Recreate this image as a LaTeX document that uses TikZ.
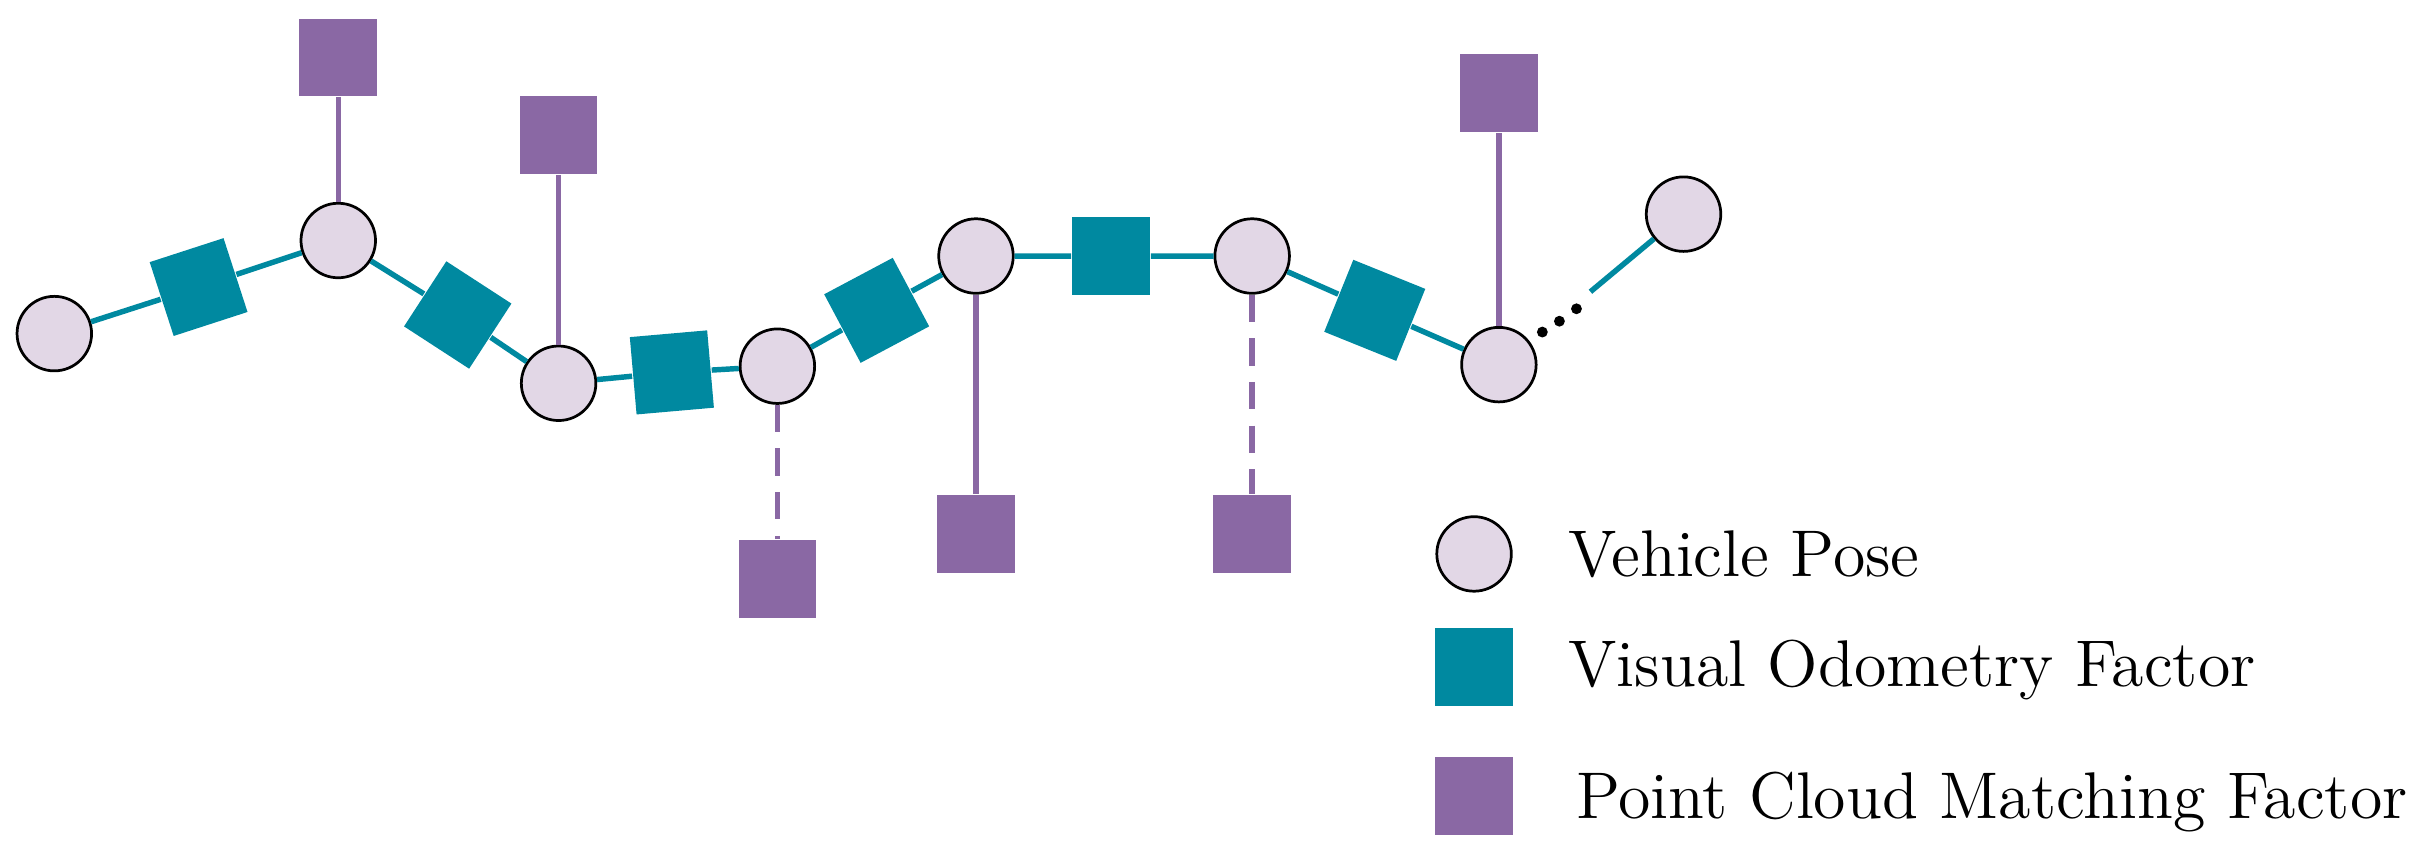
\documentclass[tikz,border=0pt]{standalone}
\usetikzlibrary{calc}
\definecolor{teal1}{RGB}{0,137,160}
\definecolor{purp}{RGB}{138,104,164}
\definecolor{pose}{RGB}{226,215,230}
\begin{document}
\begin{tikzpicture}[x=0.01cm,y=-0.01cm,
  pose/.style={circle,draw=black,line width=0.5pt,fill=pose,minimum size=0.48cm,inner sep=0},
  vo/.style={rectangle,fill=teal1,minimum size=0.5cm,inner sep=0},
  pc/.style={rectangle,fill=purp,minimum size=0.5cm,inner sep=0},
  tl/.style={draw=teal1,line width=1pt},
  pl/.style={draw=purp,line width=1pt},
  pd/.style={pl,dash pattern=on 5pt off 3pt},
  lab/.style={anchor=west,font=\fontsize{12.1}{14}\selectfont,inner sep=0}]
\useasboundingbox (0,0) rectangle (1568,548);
\node[pose] (p1) at (35,215) {};
\node[pose] (p2) at (218,155) {};
\node[pose] (p3) at (360,247) {};
\node[pose] (p4) at (501,236) {};
\node[pose] (p5) at (629,165) {};
\node[pose] (p6) at (807,165) {};
\node[pose] (p7) at (966,235) {};
\node[pose] (p8) at (1085,138) {};
\coordinate (d) at (1025,188);
\node[vo,rotate=18] (f1) at (128,185) {};
\node[vo,rotate=-33] (f2) at (295,203) {};
\node[vo,rotate=5] (f3) at (433,240) {};
\node[vo,rotate=28] (f4) at (565,200) {};
\node[vo] (f5) at (716,165) {};
\node[vo,rotate=-22] (f6) at (886,200) {};
\node[pc] (c2) at (218,37) {};
\node[pc] (c3) at (360,87) {};
\node[pc] (c4) at (501,373) {};
\node[pc] (c5) at (629,344) {};
\node[pc] (c6) at (807,344) {};
\node[pc] (c7) at (966,60) {};
\draw[tl] (p1)--(f1)--(p2)--(f2)--(p3)--(f3)--(p4)--(f4)--(p5)--(f5)--(p6)--(f6)--(p7);
\draw[tl] (p8)--(d);
\draw[pl] (p2)--(c2);
\draw[pl] (p3)--(c3);
\draw[pd] (p4)--(c4);
\draw[pl] (p5)--(c5);
\draw[pd] (p6)--(c6);
\draw[pl] (p7)--(c7);
\foreach \x/\y in {994/214,1005/207,1016/199} \fill (\x,\y) circle (0.035cm);
\node[pose] (l1) at (950,357) {};
\node[vo] (l2) at (950,430) {};
\node[pc] (l3) at (950,513) {};
\node[lab] (t1) at (1010,357) {Vehicle Pose};
\node[lab] (t2) at (1010,432) {Visual Odometry Factor};
\node[lab] (t3) at (1015,517) {Point Cloud Matching Factor};
\end{tikzpicture}
\end{document}
